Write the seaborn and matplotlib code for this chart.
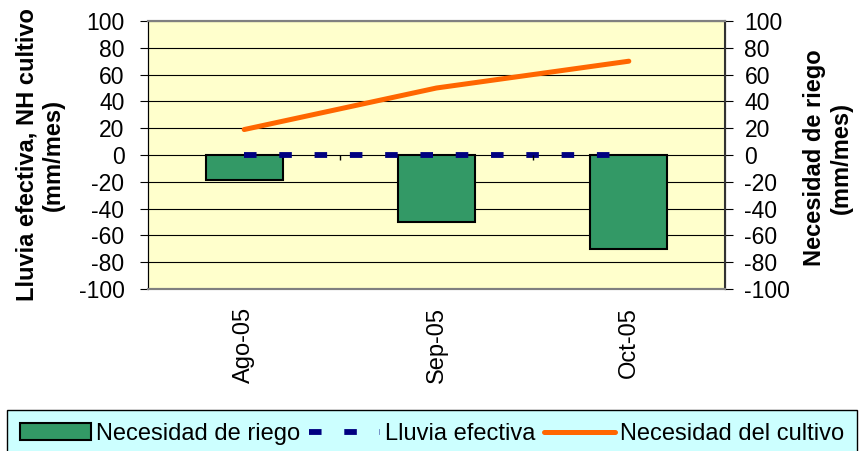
import numpy as np
import pandas as pd
import seaborn as sns
import matplotlib.pyplot as plt
from matplotlib.patches import Patch
from matplotlib.lines import Line2D

# datos
meses = ["Ago-05", "Sep-05", "Oct-05"]
necesidad_riego = [-19, -50, -70]
lluvia_efectiva = [0, 0, 0]
necesidad_cultivo = [19, 50, 70]
yticks = list(range(-100, 101, 20))

plt.rcParams['font.family'] = ['Liberation Sans', 'DejaVu Sans']
plt.rcParams['axes.unicode_minus'] = False

verde = "#339966"
azul = "#000080"
naranja = "#FF6600"
guiones = (0, (2.15, 3.9))

df = pd.DataFrame({"mes": meses, "riego": necesidad_riego,
                   "lluvia": lluvia_efectiva, "cultivo": necesidad_cultivo})

fig = plt.figure(figsize=(8.6, 4.51), dpi=100)
ax = fig.add_axes([148 / 860, 1 - 289 / 451, 577 / 860, 268 / 451])
ax.set_facecolor("#FFFFCC")
ax.set_axisbelow(True)
ax.yaxis.grid(True, color="black", linewidth=0.8)

sns.barplot(data=df, x="mes", y="riego", color=verde, width=0.4,
            saturation=1, edgecolor="black", linewidth=1.5,
            errorbar=None, ax=ax)
sns.lineplot(data=df, x="mes", y="lluvia", color=azul, linewidth=4.2,
             linestyle=guiones, ax=ax)
sns.lineplot(data=df, x="mes", y="cultivo", color=naranja, linewidth=3.6,
             solid_capstyle="round", ax=ax)

# marcas del eje de categorias sobre la linea de cero
bordes = np.arange(len(meses) - 1) + 0.5
ax.vlines(bordes, -4, 0, color="black", linewidth=1)

ax.set_xlim(-0.5, len(meses) - 0.5)
ax.set_ylim(-100, 100)
ax.set_yticks(yticks)
ax.set_xlabel("")
ax.set_ylabel("Lluvia efectiva, NH cultivo\n(mm/mes)", fontsize=17,
              fontweight="bold")
ax.yaxis.set_label_coords(-0.144, 0.5)
ax.tick_params(axis="y", direction="out", length=6, labelsize=16.5, pad=11)
ax.tick_params(axis="x", length=0, labelsize=17, pad=13, labelrotation=90)

ax2 = ax.twinx()
ax2.set_ylim(-100, 100)
ax2.set_yticks(yticks)
ax2.tick_params(axis="y", direction="out", length=6, labelsize=16.5, pad=8)
ax2.set_ylabel("Necesidad de riego\n(mm/mes)", fontsize=17,
               fontweight="bold")
ax2.yaxis.set_label_coords(1.135, 0.49)

for a in (ax, ax2):
    a.spines["top"].set_color("#808080")
    a.spines["bottom"].set_color("#808080")
    a.spines["top"].set_linewidth(1.5)
    a.spines["bottom"].set_linewidth(1.5)
ax.spines["left"].set_color("black")
ax2.spines["right"].set_color("#333333")
ax2.spines["right"].set_linewidth(1.5)

handles = [
    Patch(facecolor=verde, edgecolor="black", linewidth=1.5),
    Line2D([], [], color=azul, linewidth=4.2, linestyle=guiones),
    Line2D([], [], color=naranja, linewidth=3.6, solid_capstyle="round"),
]
labels = ["Necesidad de riego", "Lluvia efectiva", "Necesidad del cultivo"]
leg = fig.legend(handles, labels, ncol=3, loc="upper left",
                 bbox_to_anchor=(7 / 860, 1 - 410 / 451),
                 fontsize=17, frameon=True, fancybox=False,
                 facecolor="#CCFFFF", edgecolor="black", framealpha=1,
                 handlelength=3.0, handletextpad=0.2, columnspacing=0.4,
                 borderpad=0.55, borderaxespad=0)
leg.get_frame().set_linewidth(1)

fig.savefig("out.png", dpi=100)
